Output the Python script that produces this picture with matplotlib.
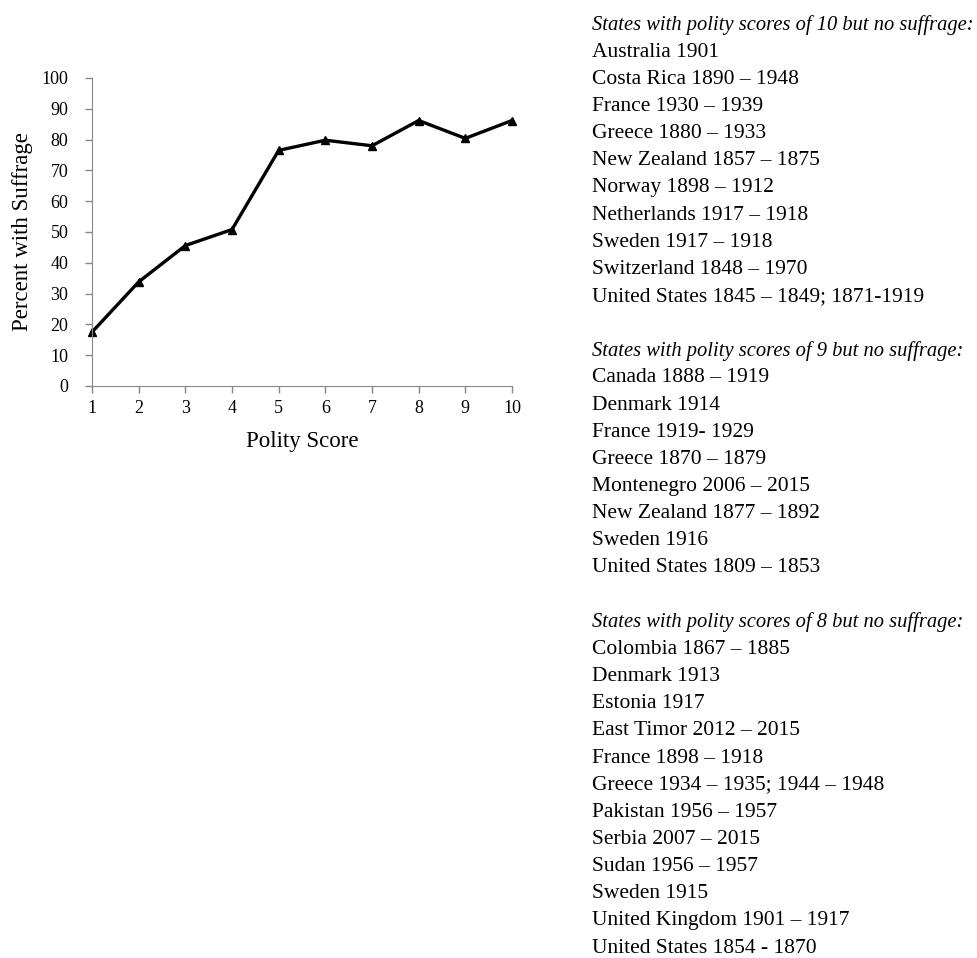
import matplotlib
matplotlib.use("Agg")
import matplotlib.pyplot as plt

# data
polity = [1, 2, 3, 4, 5, 6, 7, 8, 9, 10]
pct_suffrage = [17.5, 33.8, 45.6, 50.8, 76.5, 79.8, 78.0, 86.2, 80.4, 86.2]
yticks = [0, 10, 20, 30, 40, 50, 60, 70, 80, 90, 100]

head10 = "States with polity scores of 10 but no suffrage:"
list10 = ["Australia 1901", "Costa Rica 1890 – 1948", "France 1930 – 1939",
          "Greece 1880 – 1933", "New Zealand 1857 – 1875", "Norway 1898 – 1912",
          "Netherlands 1917 – 1918", "Sweden 1917 – 1918", "Switzerland 1848 – 1970",
          "United States 1845 – 1849; 1871-1919"]
head9 = "States with polity scores of 9 but no suffrage:"
list9 = ["Canada 1888 – 1919", "Denmark 1914", "France 1919- 1929",
         "Greece 1870 – 1879", "Montenegro 2006 – 2015", "New Zealand 1877 – 1892",
         "Sweden 1916", "United States 1809 – 1853"]
head8 = "States with polity scores of 8 but no suffrage:"
list8 = ["Colombia 1867 – 1885", "Denmark 1913", "Estonia 1917",
         "East Timor 2012 – 2015", "France 1898 – 1918",
         "Greece 1934 – 1935; 1944 – 1948", "Pakistan 1956 – 1957",
         "Serbia 2007 – 2015", "Sudan 1956 – 1957", "Sweden 1915",
         "United Kingdom 1901 – 1917", "United States 1854 - 1870"]

plt.rcParams['font.family'] = ['Liberation Serif', 'DejaVu Serif']

W, H = 977, 958
fig = plt.figure(figsize=(W / 100, H / 100), dpi=100)
ax = fig.add_axes([92 / W, (H - 386) / H, (512 - 92) / W, (386 - 78) / H])

ax.plot(polity, pct_suffrage, color='black', lw=2.4, marker='^', markersize=6,
        clip_on=False)
ax.set_xlim(1, 10)
ax.set_ylim(0, 100)
ax.set_xticks(polity)
ax.set_yticks(yticks)
ax.tick_params(labelsize=13, color='#888888', length=5, width=1)
ax.tick_params(axis='x', pad=5)
ax.tick_params(axis='y', pad=12)
for s in ['top', 'right']:
    ax.spines[s].set_visible(False)
for s in ['left', 'bottom']:
    ax.spines[s].set_color('#888888')
ax.set_xlabel("Polity Score", fontsize=16.5, labelpad=10)
ax.set_ylabel("Percent with Suffrage", fontsize=16.5, labelpad=6)

# list of states to the right
lines = [(head10, True)] + [(t, False) for t in list10] + [("", False)]
lines += [(head9, True)] + [(t, False) for t in list9] + [("", False)]
lines += [(head8, True)] + [(t, False) for t in list8]
x0 = 592
y0 = 25
step = 27.15
for i, (t, it) in enumerate(lines):
    fig.text(x0 / W, 1 - (y0 + i * step) / H, t,
             fontsize=14.8 if it else 15.5,
             style='italic' if it else 'normal', va='center', ha='left')

fig.savefig("out.png", dpi=100)
